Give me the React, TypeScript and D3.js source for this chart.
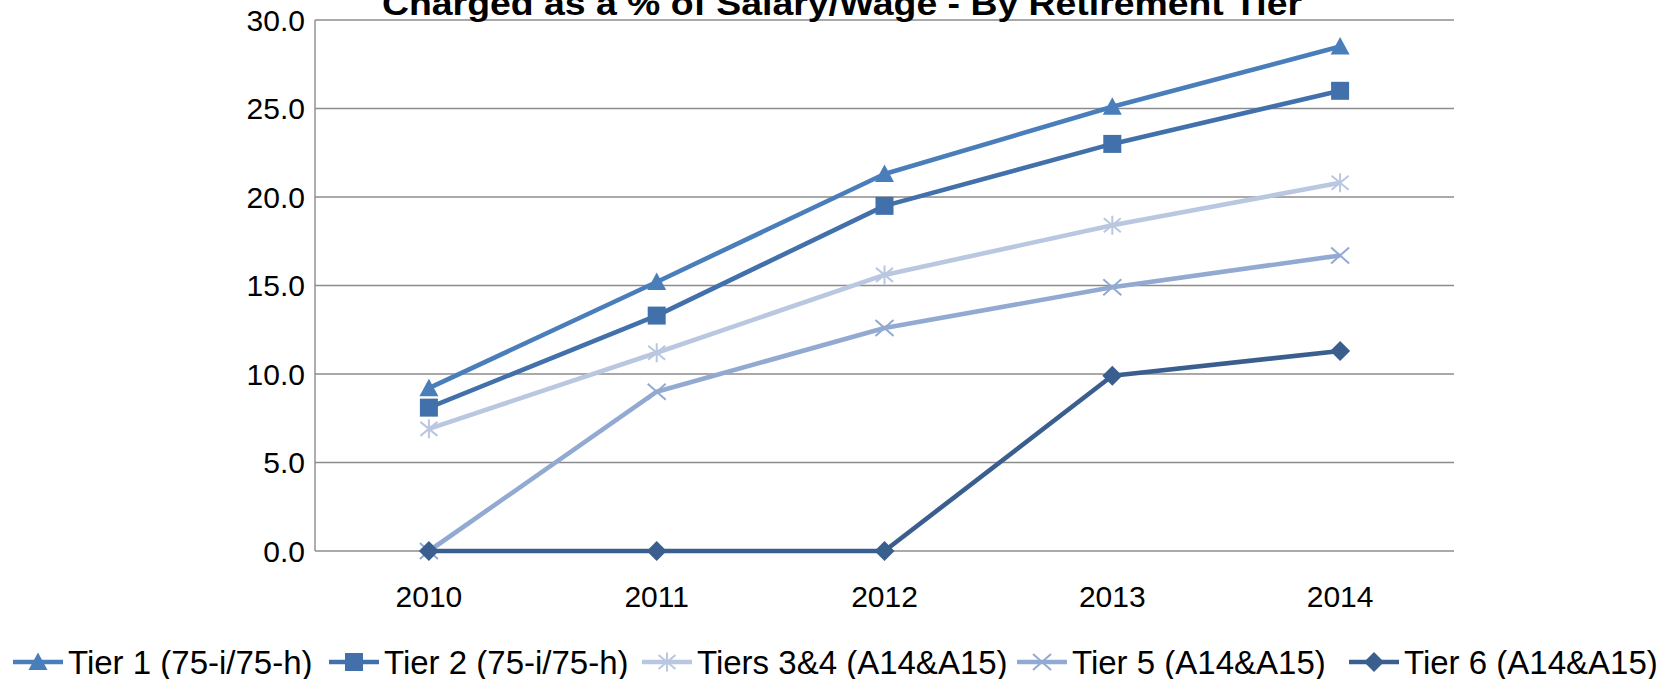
import React from "react";
import * as d3 from "d3";

const categories = ["2010", "2011", "2012", "2013", "2014"];
const yTicks = [0, 5, 10, 15, 20, 25, 30];
const seriesNames = [
  "Tier 1 (75-i/75-h)",
  "Tier 2 (75-i/75-h)",
  "Tiers 3&4 (A14&A15)",
  "Tier 5 (A14&A15)",
  "Tier 6 (A14&A15)",
];
const tier1 = [9.2, 15.2, 21.3, 25.1, 28.5];
const tier2 = [8.1, 13.3, 19.5, 23.0, 26.0];
const tiers34 = [6.9, 11.2, 15.6, 18.4, 20.8];
const tier5 = [0, 9.0, 12.6, 14.9, 16.7];
const tier6 = [0, 0, 0, 9.9, 11.3];
const title = "Charged as a % of Salary/Wage - By Retirement Tier";

const seriesValues = [tier1, tier2, tiers34, tier5, tier6];
const colors = ["#4A7EBB", "#4170AA", "#B9C7E0", "#92AAD2", "#3A5F8E"];
const markers = ["triangle", "square", "asterisk", "x", "diamond"];

const W = 1665;
const H = 679;
const plot = { left: 315, right: 1454, top: 20, bottom: 551 };
const FONT = "'Liberation Sans', Arial, sans-serif";

function Marker({ type, x, y, color }: { type: string; x: number; y: number; color: string }) {
  const t = `translate(${x},${y})`;
  if (type === "triangle") {
    return <path transform={t} d="M0,-9.5L9.5,8L-9.5,8Z" fill={color} />;
  }
  if (type === "square") {
    return <rect x={x - 9} y={y - 9} width={18} height={18} fill={color} />;
  }
  if (type === "diamond") {
    return <path transform={t} d="M0,-10L10,0L0,10L-10,0Z" fill={color} />;
  }
  if (type === "asterisk") {
    return (
      <path
        transform={t}
        d="M0,-9.5L0,9.5M-8.5,-7L8.5,7M-8.5,7L8.5,-7"
        stroke={color}
        strokeWidth={2}
        fill="none"
      />
    );
  }
  return (
    <path transform={t} d="M-9,-8L9,8M-9,8L9,-8" stroke={color} strokeWidth={2} fill="none" />
  );
}

export default function App() {
  const xBand = d3.scaleBand<string>().domain(categories).range([plot.left, plot.right]).padding(0);
  const xc = (c: string) => (xBand(c) as number) + xBand.bandwidth() / 2;
  const y = d3.scaleLinear().domain([0, 30]).range([plot.bottom, plot.top]);

  const line = d3
    .line<number>()
    .x((_, i) => xc(categories[i]))
    .y((v) => y(v));

  const legendX = [13, 329, 642, 1017, 1349];
  const legendY = 662;

  return (
    <svg
      width={W}
      height={H}
      style={{ position: "absolute", left: 0, top: 0, background: "#fff" }}
      fontFamily={FONT}
    >
      <rect x={0} y={0} width={W} height={H} fill="#fff" />
      {yTicks.map((t) => (
        <line
          key={t}
          x1={plot.left}
          x2={plot.right}
          y1={y(t)}
          y2={y(t)}
          stroke="#8C8C8C"
          strokeWidth={1.4}
        />
      ))}
      <line x1={plot.left} x2={plot.left} y1={plot.top} y2={plot.bottom} stroke="#8C8C8C" strokeWidth={1.4} />
      {yTicks.map((t) => (
        <text
          key={"yl" + t}
          x={305}
          y={y(t)}
          textAnchor="end"
          dominantBaseline="central"
          fontSize={30}
          fill="#000"
        >
          {d3.format(".1f")(t)}
        </text>
      ))}
      {categories.map((c) => (
        <text key={c} x={xc(c)} y={596} textAnchor="middle" dominantBaseline="central" fontSize={30} fill="#000">
          {c}
        </text>
      ))}
      {seriesValues.map((vals, si) => (
        <g key={si}>
          <path
            d={line(vals) || ""}
            fill="none"
            stroke={colors[si]}
            strokeWidth={4.6}
            strokeLinejoin="round"
          />
          {vals.map((v, i) => (
            <Marker key={i} type={markers[si]} x={xc(categories[i])} y={y(v)} color={colors[si]} />
          ))}
        </g>
      ))}
      <text
        x={842}
        y={15}
        textAnchor="middle"
        fontSize={33}
        fontWeight="bold"
        textLength={920}
        lengthAdjust="spacingAndGlyphs"
        fill="#000"
      >
        {title}
      </text>
      {seriesNames.map((name, si) => (
        <g key={name}>
          <line
            x1={legendX[si]}
            x2={legendX[si] + 50}
            y1={legendY}
            y2={legendY}
            stroke={colors[si]}
            strokeWidth={4.6}
          />
          <Marker type={markers[si]} x={legendX[si] + 25} y={legendY} color={colors[si]} />
          <text
            x={legendX[si] + 55}
            y={legendY}
            dominantBaseline="central"
            fontSize={33}
            fill="#000"
          >
            {name}
          </text>
        </g>
      ))}
    </svg>
  );
}
